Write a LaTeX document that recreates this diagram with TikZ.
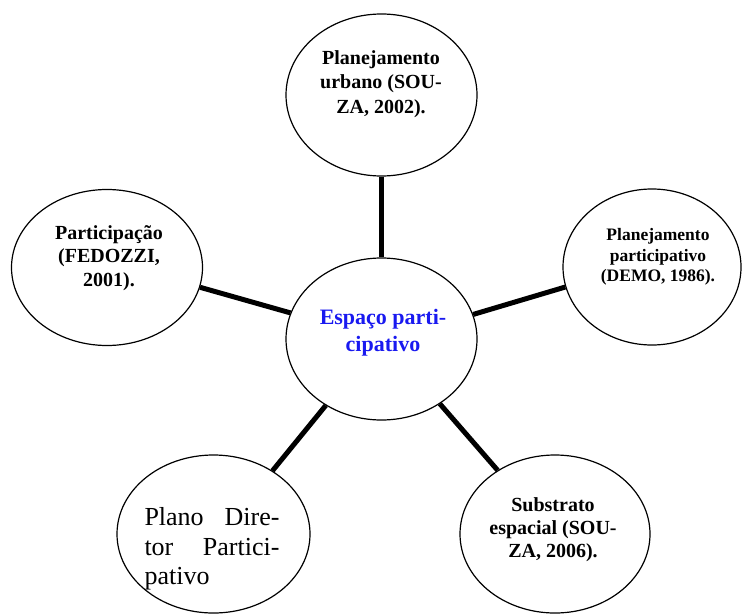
\documentclass[tikz,border=0pt]{standalone}
\usepackage{fontspec}
\setmainfont{Liberation Serif}
\usetikzlibrary{shapes.geometric}
\definecolor{myblue}{RGB}{25,25,240}
\begin{document}
\begin{tikzpicture}[x=1pt,y=-1pt,
  bub/.style={ellipse, draw, line width=1.2pt, inner sep=0pt},
  conn/.style={line width=5pt},
  lbl/.style={align=center, inner sep=0pt}]
\useasboundingbox (0,0) rectangle (743,615);
% ellipses
\node[bub, minimum width=191pt, minimum height=162pt] (top) at (381.5,95) {};
\node[bub, minimum width=191pt, minimum height=162pt] (mid) at (381.5,339) {};
\node[bub, minimum width=191pt, minimum height=156pt] (lft) at (107,267.5) {};
\node[bub, minimum width=178pt, minimum height=156pt] (rgt) at (652,267) {};
\node[bub, minimum width=190pt, minimum height=158pt] (br) at (555,534) {};
\node[bub, minimum width=193pt, minimum height=158pt] (bl) at (213.5,534) {};
% texts
\node[lbl, font=\bfseries\fontsize{20}{24.5}\selectfont] (ttop) at (381,84)
  {Planejamento\\urbano (SOU-\\ZA, 2002).};
\node[lbl, font=\bfseries\fontsize{20}{23.5}\selectfont] (tlft) at (109,258)
  {Participação\\(FEDOZZI,\\2001).};
\node[lbl, font=\bfseries\fontsize{17.5}{20.5}\selectfont] (trgt) at (658,257)
  {Planejamento\\participativo\\(DEMO, 1986).};
\node[lbl, font=\bfseries\fontsize{22}{27}\selectfont, text=myblue] (tmid) at (383,333)
  {Espaço parti-\\cipativo};
\node[lbl, font=\bfseries\fontsize{20}{23}\selectfont] (tbr) at (553,530)
  {Substrato\\espacial (SOU-\\ZA, 2006).};
\node[inner sep=0pt] (tbl) at (212,549)
  {\parbox{135pt}{\fontsize{26}{29.5}\selectfont\noindent Plano\hfill Dire-\\tor\hfill Partici-\\pativo}};
% connectors
\draw[conn] (top.-90) -- (mid.90);
\draw[conn] (lft.-12) -- (mid.164);
\draw[conn] (mid.15.5) -- (rgt.193.3);
\draw[conn] (mid.230.4) -- (bl.47.8);
\draw[conn] (mid.-48) -- (br.132);
\end{tikzpicture}
\end{document}
